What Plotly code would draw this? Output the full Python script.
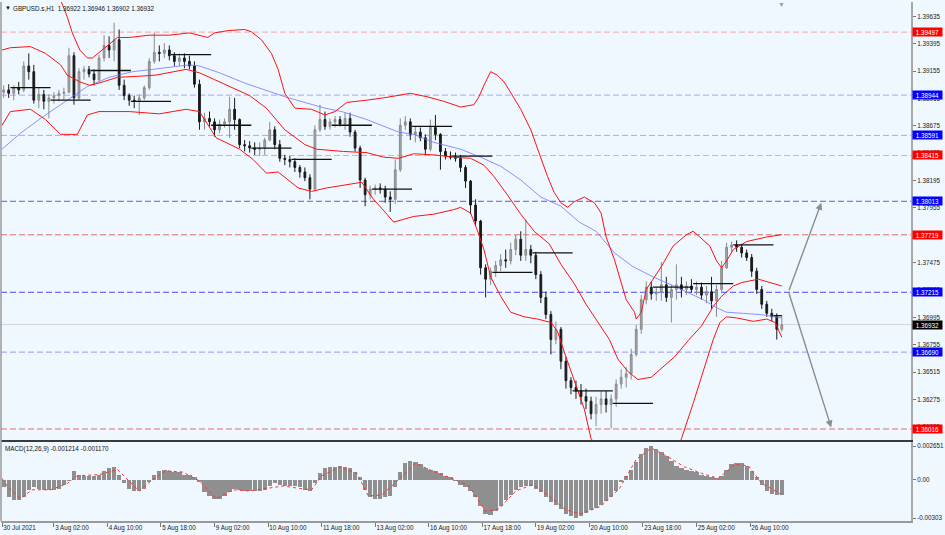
import plotly.graph_objects as go

# ---------------- data (hour index from 30 Jul 2021 18:00, H1 bars aggregated by 3) ----------------
bar_idx = [3 * k + 1 for k in range(156)]

opens = [1.3897,1.3899,1.3896,1.3901,1.3899,1.3920,1.3915,1.3890,1.3895,1.3889,
 1.3892,1.3894,1.3896,1.3897,1.3929,1.3892,1.3915,1.3917,1.3913,1.3908,
 1.3927,1.3938,1.3934,1.3943,1.3903,1.3894,1.3890,1.3889,1.3892,1.3901,
 1.3924,1.3932,1.3931,1.3934,1.3929,1.3924,1.3927,1.3924,1.3920,1.3904,
 1.3871,1.3874,1.3871,1.3864,1.3869,1.3871,1.3882,1.3873,1.3851,1.3850,
 1.3848,1.3847,1.3848,1.3855,1.3864,1.3851,1.3839,1.3838,1.3836,1.3831,
 1.3827,1.3822,1.3812,1.3864,1.3873,1.3867,1.3871,1.3873,1.3869,1.3874,
 1.3862,1.3848,1.3820,1.3807,1.3812,1.3813,1.3812,1.3805,1.3803,1.3829,
 1.3868,1.3871,1.3860,1.3862,1.3857,1.3847,1.3866,1.3860,1.3845,1.3841,
 1.3840,1.3839,1.3831,1.3819,1.3798,1.3784,1.3743,1.3733,1.3740,1.3745,
 1.3750,1.3749,1.3759,1.3768,1.3754,1.3759,1.3754,1.3737,1.3717,1.3702,
 1.3680,1.3689,1.3661,1.3644,1.3638,1.3635,1.3630,1.3626,1.3615,1.3623,
 1.3628,1.3623,1.3628,1.3641,1.3647,1.3650,1.3667,1.3689,1.3715,1.3726,
 1.3720,1.3722,1.3728,1.3717,1.3724,1.3728,1.3724,1.3727,1.3724,1.3726,
 1.3719,1.3722,1.3714,1.3724,1.3743,1.3761,1.3763,1.3761,1.3756,1.3752,
 1.3740,1.3724,1.3711,1.3703,1.3700,1.3689]

highs = [1.3903,1.3904,1.3903,1.3906,1.3924,1.3931,1.3921,1.3901,1.3899,1.3895,
 1.3897,1.3899,1.3901,1.3936,1.3932,1.3918,1.3920,1.3920,1.3917,1.3930,
 1.3947,1.3946,1.3958,1.3952,1.3908,1.3896,1.3894,1.3895,1.3903,1.3927,
 1.3949,1.3938,1.3940,1.3938,1.3932,1.3931,1.3931,1.3929,1.3924,1.3908,
 1.3879,1.3880,1.3874,1.3873,1.3874,1.3893,1.3892,1.3874,1.3855,1.3854,
 1.3853,1.3853,1.3857,1.3871,1.3867,1.3855,1.3842,1.3841,1.3839,1.3833,
 1.3831,1.3825,1.3868,1.3886,1.3880,1.3874,1.3876,1.3876,1.3879,1.3879,
 1.3864,1.3850,1.3822,1.3815,1.3816,1.3817,1.3815,1.3810,1.3838,1.3874,
 1.3876,1.3874,1.3867,1.3866,1.3860,1.3873,1.3877,1.3861,1.3848,1.3845,
 1.3844,1.3842,1.3833,1.3820,1.3803,1.3785,1.3746,1.3743,1.3749,1.3755,
 1.3759,1.3765,1.3772,1.3775,1.3785,1.3763,1.3757,1.3740,1.3722,1.3705,
 1.3696,1.3691,1.3665,1.3647,1.3644,1.3641,1.3637,1.3630,1.3630,1.3635,
 1.3635,1.3632,1.3645,1.3654,1.3656,1.3672,1.3693,1.3719,1.3731,1.3731,
 1.3726,1.3748,1.3735,1.3728,1.3746,1.3735,1.3731,1.3733,1.3731,1.3730,
 1.3727,1.3735,1.3728,1.3749,1.3765,1.3766,1.3767,1.3764,1.3759,1.3755,
 1.3743,1.3727,1.3714,1.3707,1.3703,1.3701]

lows = [1.3892,1.3892,1.3890,1.3895,1.3897,1.3908,1.3887,1.3883,1.3882,1.3874,
 1.3887,1.3889,1.3890,1.3896,1.3886,1.3890,1.3908,1.3910,1.3903,1.3906,
 1.3924,1.3927,1.3924,1.3899,1.3890,1.3885,1.3883,1.3877,1.3890,1.3899,
 1.3922,1.3924,1.3927,1.3925,1.3920,1.3920,1.3918,1.3917,1.3901,1.3864,
 1.3864,1.3867,1.3858,1.3861,1.3866,1.3857,1.3864,1.3848,1.3845,1.3844,
 1.3842,1.3841,1.3842,1.3854,1.3847,1.3836,1.3833,1.3831,1.3827,1.3822,
 1.3819,1.3803,1.3810,1.3862,1.3864,1.3864,1.3866,1.3867,1.3864,1.3858,
 1.3845,1.3813,1.3797,1.3803,1.3807,1.3808,1.3800,1.3792,1.3799,1.3827,
 1.3864,1.3855,1.3853,1.3854,1.3842,1.3845,1.3855,1.3829,1.3838,1.3838,
 1.3836,1.3827,1.3813,1.3790,1.3780,1.3737,1.3717,1.3728,1.3735,1.3740,
 1.3743,1.3746,1.3754,1.3749,1.3749,1.3747,1.3733,1.3712,1.3698,1.3667,
 1.3676,1.3654,1.3637,1.3632,1.3628,1.3623,1.3619,1.3610,1.3604,1.3615,
 1.3616,1.3602,1.3621,1.3637,1.3638,1.3645,1.3665,1.3685,1.3711,1.3715,
 1.3714,1.3714,1.3713,1.3695,1.3715,1.3717,1.3719,1.3721,1.3719,1.3715,
 1.3712,1.3707,1.3700,1.3722,1.3742,1.3757,1.3757,1.3752,1.3749,1.3735,
 1.3720,1.3707,1.3700,1.3696,1.3680,1.3687]

closes = [1.3899,1.3896,1.3901,1.3899,1.3920,1.3915,1.3890,1.3895,1.3889,1.3892,
 1.3894,1.3896,1.3897,1.3929,1.3892,1.3915,1.3917,1.3913,1.3908,1.3927,
 1.3938,1.3934,1.3943,1.3903,1.3894,1.3890,1.3889,1.3892,1.3901,1.3924,
 1.3932,1.3931,1.3934,1.3929,1.3924,1.3927,1.3924,1.3920,1.3904,1.3871,
 1.3874,1.3871,1.3864,1.3869,1.3871,1.3882,1.3873,1.3851,1.3850,1.3848,
 1.3847,1.3848,1.3855,1.3864,1.3851,1.3839,1.3838,1.3836,1.3831,1.3827,
 1.3822,1.3812,1.3864,1.3873,1.3867,1.3871,1.3873,1.3869,1.3874,1.3862,
 1.3848,1.3820,1.3807,1.3812,1.3813,1.3812,1.3805,1.3803,1.3829,1.3868,
 1.3871,1.3860,1.3862,1.3857,1.3847,1.3866,1.3860,1.3845,1.3841,1.3840,
 1.3839,1.3831,1.3819,1.3798,1.3784,1.3743,1.3733,1.3740,1.3745,1.3750,
 1.3749,1.3759,1.3768,1.3754,1.3759,1.3754,1.3737,1.3717,1.3702,1.3680,
 1.3689,1.3661,1.3644,1.3638,1.3635,1.3630,1.3626,1.3615,1.3623,1.3628,
 1.3623,1.3628,1.3641,1.3647,1.3650,1.3667,1.3689,1.3715,1.3726,1.3720,
 1.3722,1.3728,1.3717,1.3724,1.3728,1.3724,1.3727,1.3724,1.3726,1.3719,
 1.3722,1.3714,1.3724,1.3743,1.3761,1.3763,1.3761,1.3756,1.3752,1.3740,
 1.3724,1.3711,1.3703,1.3700,1.3689,1.3693]

upper_idx = [28,35,39,42,46.5,51,54,58,63,69,76,88,100,112,123,127,135,145,149,155,161,165,169,175,185,
 193,199,206,218,228,244,254,264,274,282,285,288,292,296,300,303,310,316,322,326,330,334,338,342,348,
 354,358,361,366,370,373,378,379,382,385,394,401,409,413,417,423,427,430,433,437,445,457,466]
upper_val = [1.4000,1.3978,1.3963,1.3949,1.3934,1.3927,1.3927,1.3932,1.3938,1.3945,1.3945,1.3947,1.3947,1.3949,1.3945,
 1.3949,1.3951,1.3952,1.3950,1.3943,1.3931,1.3917,1.3896,1.3883,1.3882,1.3877,1.3880,1.3888,1.3890,1.3892,
 1.3896,1.3893,1.3889,1.3884,1.3886,1.3893,1.3903,1.3915,1.3912,1.3906,1.3899,1.3882,1.3864,1.3840,1.3823,
 1.3809,1.3800,1.3796,1.3801,1.3805,1.3800,1.3791,1.3770,1.3750,1.3730,1.3715,1.3704,1.3698,1.3704,1.3724,
 1.3744,1.3762,1.3772,1.3775,1.3770,1.3762,1.3749,1.3743,1.3749,1.3759,1.3766,1.3770,1.3772]

middle_idx = [0,5,17,26,35,39,46.5,52.5,58,69,82,92,110,118,127,138,148,158,169,181,188,204,218,228,237,
 246,258,270,280,288,294,302,310,318,327,334,342,349,357,363,368,374,380,388,395,402,410,418,425,430,
 437,442,452,461,466]
middle_val = [1.3934,1.3936,1.3937,1.3931,1.3921,1.3912,1.3906,1.3903,1.3905,1.3910,1.3911,1.3912,1.3917,1.3914,1.3908,
 1.3901,1.3894,1.3883,1.3864,1.3851,1.3847,1.3845,1.3844,1.3840,1.3839,1.3843,1.3842,1.3840,1.3839,1.3833,
 1.3823,1.3807,1.3790,1.3775,1.3764,1.3746,1.3729,1.3711,1.3693,1.3680,1.3663,1.3652,1.3645,1.3647,1.3656,
 1.3665,1.3679,1.3692,1.3709,1.3718,1.3727,1.3730,1.3733,1.3729,1.3727]

lower_idx = [0,5,17,26,35,45,51,58,76,94,110,118,128,142,150,158,165,171,177,185,194,215,222,230,234,
 246,258,270,274,280,284,288,292,298,304,312,320,328,332,336,342,348,352,360,375,392,402,406,413,419,
 425,429,433,439,449,457,462,466]
lower_val = [1.3868,1.3880,1.3882,1.3873,1.3860,1.3860,1.3877,1.3880,1.3880,1.3878,1.3882,1.3880,1.3857,1.3847,1.3838,
 1.3826,1.3827,1.3820,1.3813,1.3810,1.3813,1.3818,1.3803,1.3790,1.3783,1.3788,1.3790,1.3794,1.3796,1.3791,
 1.3776,1.3759,1.3735,1.3718,1.3704,1.3700,1.3698,1.3695,1.3687,1.3669,1.3643,1.3619,1.3593,1.3580,1.3580,
 1.3571,1.3577,1.3593,1.3624,1.3652,1.3680,1.3695,1.3700,1.3699,1.3696,1.3698,1.3695,1.3682]

ma_idx = [0,11,24,39,51,64,78,90,102,112,118,130,145,157,169,181,193,203,218,237,246,258,274,286,298,
 310,322,334,345,355,366,377,389,400,409,419,427,433,443,453,462,466]
ma_val = [1.3847,1.3861,1.3875,1.3890,1.3902,1.3910,1.3915,1.3917,1.3919,1.3921,1.3920,1.3914,1.3905,1.3899,1.3893,
 1.3888,1.3883,1.3880,1.3873,1.3862,1.3860,1.3853,1.3847,1.3840,1.3832,1.3820,1.3805,1.3797,1.3783,1.3775,
 1.3756,1.3744,1.3735,1.3728,1.3722,1.3715,1.3708,1.3704,1.3703,1.3702,1.3700,1.3699]

day_start = [5,29,53,77,101,125,149,173,197,221,245,269,293,317,341,365,389,413,437,461]
day_level = [1.3901,1.3890,1.3916,1.3889,1.3930,1.3868,1.3848,1.3838,1.3868,1.3812,
 1.3867,1.3841,1.3739,1.3756,1.3635,1.3624,1.3726,1.3729,1.3763,1.3701]

macd_hist = [-0.0006,-0.0014,-0.0016,-0.0016,-0.0014,-0.0008,-0.0006,-0.0007,-0.0008,-0.0008,
 -0.0008,-0.0007,-0.0004,-0.0001,0.0007,0.0004,0.0003,0.0003,0.0003,0.0004,
 0.0007,0.0009,0.0010,0.0004,-0.0003,-0.0007,-0.0009,-0.0009,-0.0007,-0.0002,
 0.0004,0.0007,0.0008,0.0007,0.0006,0.0006,0.0004,0.0004,0.0002,-0.0002,
 -0.0010,-0.0013,-0.0015,-0.0015,-0.0013,-0.0010,-0.0007,-0.0008,-0.0009,-0.0009,
 -0.0009,-0.0009,-0.0008,-0.0005,-0.0003,-0.0004,-0.0005,-0.0005,-0.0005,-0.0006,
 -0.0008,-0.0009,-0.0003,0.0005,0.0009,0.0010,0.0010,0.0011,0.0010,0.0009,
 0.0006,0.0002,-0.0008,-0.0014,-0.0015,-0.0015,-0.0014,-0.0013,-0.0006,0.0006,
 0.0013,0.0015,0.0014,0.0012,0.0009,0.0008,0.0007,0.0005,0.0003,0.0002,
 -0.0001,-0.0004,-0.0006,-0.0009,-0.0014,-0.0021,-0.0027,-0.0028,-0.0025,-0.0021,
 -0.0016,-0.0012,-0.0008,-0.0006,-0.0005,-0.0005,-0.0007,-0.0010,-0.0014,-0.0018,
 -0.0020,-0.0023,-0.0027,-0.0029,-0.00303,-0.0029,-0.0026,-0.0024,-0.0022,-0.0020,
 -0.0017,-0.0014,-0.0009,-0.0002,0.0003,0.0008,0.0014,0.0020,0.0025,0.00265,
 0.0024,0.0022,0.0019,0.0015,0.0011,0.0009,0.0008,0.0007,0.0006,0.0004,
 0.0003,0.0002,0.0001,0.0003,0.0008,0.0012,0.0013,0.0013,0.0011,0.0007,
 0.0002,-0.0004,-0.0009,-0.0011,-0.0012,-0.00121]

sig_idx = [0,3,11,18,29,39,45,58,69,75,82,90,98,108,118,128,138,148,158,168,178,185,191,202,212,
 219,227,237,247,257,267,279,289,297,307,317,327,337,346,358,369,379,388,398,408,418,428,438,446,454,466]
sig_val = [0.0001,-0.0005,-0.0015,-0.0008,-0.0008,-0.0003,0.0003,0.0004,0.0008,0.0000,-0.0009,0.0000,0.0007,0.0006,-0.0001,
 -0.0015,-0.0008,-0.0009,-0.0007,-0.0005,-0.0007,-0.0008,0.0003,0.0010,0.0005,-0.0013,-0.0012,0.0000,0.0013,0.0007,
 0.0002,-0.0005,-0.0025,-0.0023,-0.0009,-0.0004,-0.0013,-0.0024,-0.0027,-0.0021,-0.0007,0.0016,0.0025,0.0018,0.0010,
 0.0005,0.0001,0.0012,0.0011,-0.0003,-0.00117]

# horizontal levels: (price, line colour, label colour)
level_price = [1.39497, 1.38944, 1.38591, 1.38415, 1.38013, 1.37719, 1.37215, 1.36690, 1.36016]
level_line = ['#F4A3A3', '#A9A9F5', '#A9A9F5', '#F4A3A3', '#5B5BD6', '#E26A6A', '#4B4BF0', '#9A9AF2', '#E27070']
level_box = ['#FF0000', '#0000FF', '#0000FF', '#FF0000', '#0000FF', '#FF0000', '#0000FF', '#0000FF', '#FF0000']
current_price = 1.36932

y_ticks = [1.39635, 1.39395, 1.39155, 1.38915, 1.38675, 1.38435, 1.38195, 1.37955,
           1.37715, 1.37475, 1.37235, 1.36995, 1.36755, 1.36515, 1.36275, 1.36035]
x_tick_idx = [0, 31, 63, 95, 127, 159, 191, 223, 255, 287, 319, 351, 383, 415, 447]
x_tick_text = ['30 Jul 2021', '3 Aug 02:00', '4 Aug 10:00', '5 Aug 18:00', '9 Aug 02:00', '10 Aug 10:00',
               '11 Aug 18:00', '13 Aug 02:00', '16 Aug 10:00', '17 Aug 18:00', '19 Aug 02:00',
               '20 Aug 10:00', '23 Aug 18:00', '25 Aug 02:00', '26 Aug 10:00']
macd_ticks = [0.002651, 0.0, -0.00303]
macd_tick_text = ['0.002651', '0.00', '-0.00303']

# scenario arrows: start (idx, price) and two targets
arrow_start = (470, 1.3722)
arrow_up_end = (489.6, 1.3800)
arrow_down_end = (495.5, 1.3603)

X_RANGE = [-0.6, 543.2]
Y_RANGE = [1.35919, 1.39761]
M_RANGE = [-0.003267, 0.002967]

FONT = 'Liberation Sans, Arial, sans-serif'
BG = '#F0F8FF'

fig = go.Figure()

fig.add_trace(go.Candlestick(
    x=bar_idx, open=opens, high=highs, low=lows, close=closes,
    increasing=dict(line=dict(color='#8a8a8a', width=1), fillcolor='#a8a8a8'),
    decreasing=dict(line=dict(color='#1a1a1a', width=1), fillcolor='#1a1a1a'),
    whiskerwidth=0, hoverinfo='skip', xaxis='x', yaxis='y'))

fig.add_trace(go.Scatter(x=ma_idx, y=ma_val, mode='lines', line=dict(color='#7373ff', width=0.8),
                         xaxis='x', yaxis='y', hoverinfo='skip'))
for xs, ys in ((upper_idx, upper_val), (middle_idx, middle_val), (lower_idx, lower_val)):
    fig.add_trace(go.Scatter(x=xs, y=ys, mode='lines', line=dict(color='#FF1010', width=1),
                             xaxis='x', yaxis='y', hoverinfo='skip'))

seg_x, seg_y = [], []
for s, lv in zip(day_start, day_level):
    seg_x += [s, min(s + 24, 466), None]
    seg_y += [lv, lv, None]
fig.add_trace(go.Scatter(x=seg_x, y=seg_y, mode='lines', line=dict(color='#111111', width=1.3),
                         xaxis='x', yaxis='y', hoverinfo='skip'))

fig.add_trace(go.Bar(x=bar_idx, y=macd_hist, width=2.6, marker=dict(color='#8f8f8f', line=dict(width=0)),
                     xaxis='x2', yaxis='y2', hoverinfo='skip'))
fig.add_trace(go.Scatter(x=sig_idx, y=sig_val, mode='lines', line=dict(color='#FF3030', width=1, dash='dot'),
                         xaxis='x2', yaxis='y2', hoverinfo='skip'))

shapes = []
for p, c in zip(level_price, level_line):
    shapes.append(dict(type='line', xref='paper', x0=0, x1=1, yref='y', y0=p, y1=p,
                       line=dict(color=c, width=1, dash='6px,3px'), layer='below'))
shapes.append(dict(type='line', xref='paper', x0=0, x1=1, yref='y', y0=current_price, y1=current_price,
                   line=dict(color='#d6d6d6', width=1), layer='below'))
shapes.append(dict(type='line', xref='paper', x0=0, x1=0, yref='paper', y0=0, y1=1,
                   line=dict(color='#9a9a9a', width=1.5)))

annotations = []
for p, c in zip(level_price + [current_price], level_box + ['#000000']):
    annotations.append(dict(xref='paper', x=1, xshift=1, xanchor='left', yref='y', y=p, yanchor='middle',
                            text=f'{p:.5f}', showarrow=False, bgcolor=c, width=29, height=8, align='center',
                            borderpad=0, font=dict(family=FONT, size=6.3, color='#ffffff')))
annotations.append(dict(xref='paper', x=0, xshift=10, xanchor='left', yref='paper', y=1, yshift=-1, yanchor='top',
                        text='GBPUSD.s,H1  1.36922 1.36946 1.36902 1.36932', showarrow=False,
                        font=dict(family=FONT, size=6.3, color='#111')))
annotations.append(dict(xref='paper', x=0, xshift=2, xanchor='left', yref='paper', y=1, yshift=-1, yanchor='top',
                        text='▼', showarrow=False, font=dict(family=FONT, size=6, color='#111')))
annotations.append(dict(xref='paper', x=0, xshift=2, xanchor='left', yref='paper', y=0.152, yshift=-1, yanchor='top',
                        text='MACD(12,26,9) -0.001214 -0.001170', showarrow=False,
                        font=dict(family=FONT, size=6.3, color='#111')))
annotations.append(dict(xref='x', x=466, yref='paper', y=1, yshift=3, yanchor='top', text='▼', showarrow=False,
                        font=dict(family=FONT, size=7, color='#a0a0a0')))
for end in (arrow_up_end, arrow_down_end):
    annotations.append(dict(xref='x', yref='y', x=end[0], y=end[1], axref='x', ayref='y',
                            ax=arrow_start[0], ay=arrow_start[1], text='', showarrow=True,
                            arrowhead=2, arrowsize=1, arrowwidth=1.4, arrowcolor='#8c8c8c'))

axis_common = dict(showgrid=False, zeroline=False)
fig.update_layout(
    width=945, height=535, margin=dict(l=1, r=32, t=2, b=14),
    paper_bgcolor=BG, plot_bgcolor=BG, showlegend=False, bargap=0, boxgap=0.5,
    font=dict(family=FONT, size=6.3, color='#222'),
    xaxis=dict(domain=[0, 1], anchor='y', range=X_RANGE, showticklabels=False, ticks='',
               rangeslider=dict(visible=False), showline=True, linecolor='#3a3a3a', linewidth=1.5, **axis_common),
    xaxis2=dict(domain=[0, 1], anchor='y2', range=X_RANGE, matches='x', tickmode='array', tickvals=x_tick_idx,
                ticktext=x_tick_text, ticks='outside', ticklen=4, tickcolor='#777', tickwidth=1,
                ticklabelposition='outside right', showline=True, linecolor='#9a9a9a', linewidth=1.5,
                tickfont=dict(family=FONT, size=6.3, color='#222'), **axis_common),
    yaxis=dict(domain=[0.156, 1], anchor='x', side='right', range=Y_RANGE, tickmode='array', tickvals=y_ticks,
               ticktext=[f'{v:.5f}' for v in y_ticks], ticks='outside', ticklen=3, tickcolor='#777',
               showline=True, linecolor='#a8a8a8', linewidth=2,
               tickfont=dict(family=FONT, size=6.3, color='#222'), **axis_common),
    yaxis2=dict(domain=[0, 0.152], anchor='x2', side='right', range=M_RANGE, tickmode='array', tickvals=macd_ticks,
                ticktext=macd_tick_text, ticks='outside', ticklen=3, tickcolor='#777',
                showline=True, linecolor='#a8a8a8', linewidth=2,
                tickfont=dict(family=FONT, size=6.3, color='#222'), **axis_common),
    shapes=shapes, annotations=annotations,
)

fig.write_html('out.html', config={'displayModeBar': False, 'staticPlot': True},
               post_script="document.body.style.margin='0px';document.body.style.overflow='hidden';")
